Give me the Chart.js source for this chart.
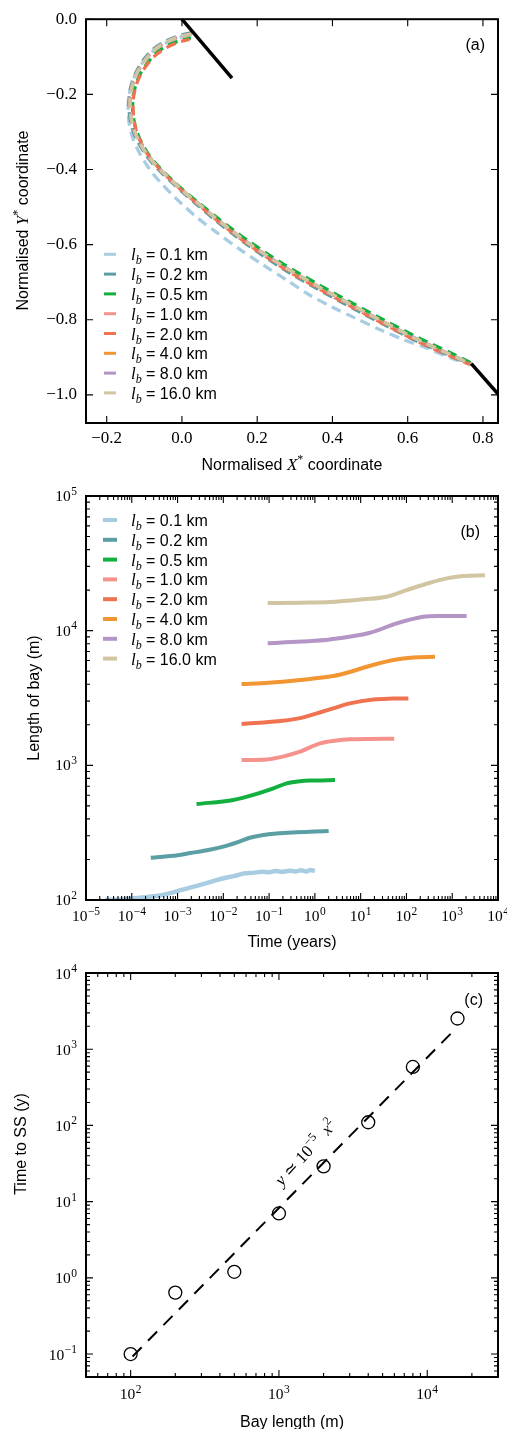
<!DOCTYPE html>
<html>
<head>
<meta charset="utf-8">
<script src="https://cdn.jsdelivr.net/npm/chart.js@4.4.1/dist/chart.umd.min.js"></script>
<style>
  html, body { margin: 0; padding: 0; background: #fff; overflow: hidden; }
  #page { position: relative; width: 507px; height: 1429px; overflow: hidden; background: #fff; }
  #page canvas { position: absolute; left: 0; }
</style>
</head>
<body>
<div id="page">
  <canvas id="panelA" width="540" height="475" style="top:0px"></canvas>
  <canvas id="panelB" width="540" height="475" style="top:475px"></canvas>
  <canvas id="panelC" width="540" height="479" style="top:950px"></canvas>
</div>
<script>
const SANS = '"Liberation Sans", Arial, Helvetica, sans-serif';
const SERIF = '"Liberation Serif", "DejaVu Serif", "Times New Roman", serif';

// Bay lengths l_b shown in the legends, and their colours
const bayLabels = ['0.1', '0.2', '0.5', '1.0', '2.0', '4.0', '8.0', '16.0'];
const bayColors = ['#a8cde2', '#5b9ea4', '#13b040', '#f5928c', '#ef7350', '#f29533', '#b495c5', '#d2c5a2'];

// ---------- (a) steady-state bay shapes, normalised [X*, Y*] ----------
const shapeLb01 = [[0.020,-0.042],[-0.012,-0.050],[-0.048,-0.066],[-0.080,-0.088],[-0.105,-0.116],[-0.124,-0.148],[-0.136,-0.180],[-0.142,-0.214],[-0.143,-0.248],[-0.139,-0.285],[-0.130,-0.318],[-0.116,-0.350],[-0.099,-0.380],[-0.078,-0.410],[-0.054,-0.438],[-0.028,-0.465],[0.000,-0.492],[0.040,-0.528],[0.090,-0.566],[0.150,-0.610],[0.217,-0.655],[0.279,-0.695],[0.337,-0.733],[0.399,-0.766],[0.461,-0.796],[0.527,-0.827],[0.589,-0.853],[0.652,-0.876],[0.722,-0.905],[0.765,-0.918]];
const shapeLb02 = [[0.025,-0.036],[-0.010,-0.045],[-0.046,-0.060],[-0.078,-0.081],[-0.102,-0.108],[-0.121,-0.139],[-0.133,-0.170],[-0.140,-0.203],[-0.141,-0.237],[-0.137,-0.270],[-0.129,-0.300],[-0.115,-0.330],[-0.098,-0.358],[-0.077,-0.385],[-0.052,-0.411],[-0.025,-0.436],[0.002,-0.461],[0.037,-0.491],[0.085,-0.532],[0.133,-0.570],[0.183,-0.607],[0.271,-0.666],[0.360,-0.718],[0.449,-0.767],[0.537,-0.813],[0.626,-0.858],[0.715,-0.897],[0.768,-0.918]];
const shapeLb05 = [[0.024,-0.050],[-0.006,-0.057],[-0.038,-0.070],[-0.068,-0.090],[-0.092,-0.117],[-0.111,-0.146],[-0.123,-0.176],[-0.130,-0.208],[-0.131,-0.240],[-0.127,-0.272],[-0.119,-0.302],[-0.106,-0.331],[-0.090,-0.358],[-0.070,-0.384],[-0.046,-0.409],[-0.020,-0.434],[0.007,-0.458],[0.041,-0.486],[0.089,-0.525],[0.136,-0.561],[0.186,-0.597],[0.273,-0.654],[0.362,-0.706],[0.451,-0.755],[0.539,-0.802],[0.628,-0.848],[0.716,-0.889],[0.768,-0.915]];
const shapeLb2 = [[0.020,-0.054],[-0.012,-0.062],[-0.040,-0.075],[-0.068,-0.094],[-0.092,-0.120],[-0.111,-0.150],[-0.123,-0.180],[-0.129,-0.210],[-0.130,-0.240],[-0.127,-0.272],[-0.120,-0.301],[-0.108,-0.330],[-0.093,-0.357],[-0.073,-0.383],[-0.050,-0.409],[-0.024,-0.434],[0.003,-0.459],[0.038,-0.489],[0.086,-0.530],[0.134,-0.568],[0.184,-0.605],[0.272,-0.664],[0.361,-0.716],[0.450,-0.765],[0.538,-0.812],[0.627,-0.858],[0.716,-0.898],[0.768,-0.920]];
const shapeMid = [[0.025,-0.040],[-0.008,-0.047],[-0.044,-0.062],[-0.075,-0.083],[-0.099,-0.110],[-0.118,-0.140],[-0.130,-0.170],[-0.137,-0.202],[-0.138,-0.236],[-0.134,-0.268],[-0.126,-0.298],[-0.113,-0.327],[-0.097,-0.354],[-0.077,-0.380],[-0.053,-0.405],[-0.027,-0.430],[0.000,-0.455],[0.035,-0.484],[0.084,-0.525],[0.132,-0.563],[0.182,-0.600],[0.270,-0.658],[0.359,-0.710],[0.448,-0.759],[0.536,-0.806],[0.625,-0.852],[0.714,-0.893],[0.768,-0.918]];
const shapesA = [shapeLb01, shapeLb02, shapeLb05, shapeMid, shapeLb2, shapeMid, shapeMid, shapeMid];
const dashPhaseA = [0, 0, 2, 1, 1.5, 0.5, 0.8, 0];
// calving-front segments
const frontTop = [[0.0, 0.0], [0.133, -0.157]];
const frontBottom = [[0.769, -0.917], [0.842, -1.0]];
const aXTicks = [-0.2, 0.0, 0.2, 0.4, 0.6, 0.8];
const aYTicks = [-1.0, -0.8, -0.6, -0.4, -0.2, 0.0];

// ---------- (b) bay length through time, [years, metres] ----------
const growth01 = [[2.6e-5,100],[6e-5,101],[1.5e-4,104],[4e-4,108],[8e-4,114],[1.5e-3,121],[3e-3,129],[6e-3,138],[0.01,145],[0.018,151],[0.027,157],[0.045,159],[0.07,162],[0.1,161],[0.14,164],[0.2,162],[0.28,165],[0.38,163],[0.5,166],[0.65,163],[0.8,167],[1.0,164]];
const growth02 = [[2.6e-4,206],[1e-3,215],[0.0019,223],[0.005,236],[0.01,249],[0.02,268],[0.038,290],[0.07,303],[0.147,312],[0.4,318],[1.0,322],[2.0,326]];
const growth05 = [[0.0026,516],[0.0165,553],[0.045,603],[0.124,675],[0.242,735],[0.47,763],[1.0,772],[2.75,778]];
const growth1 = [[0.025,1095],[0.089,1106],[0.2,1160],[0.47,1262],[1.29,1455],[3.0,1530],[5.8,1560],[15,1572],[54,1575]];
const growth2 = [[0.025,2027],[0.2,2140],[0.5,2250],[1.1,2430],[2.5,2650],[5.8,2885],[19,3085],[50,3130],[110,3140]];
const growth4 = [[0.025,4020],[0.1,4100],[0.47,4300],[2.5,4600],[6,4950],[13.5,5400],[52,6050],[141,6330],[420,6400]];
const growth8 = [[0.093,8050],[0.5,8300],[2.14,8610],[16,9640],[61,11320],[233,12680],[459,12860],[2070,12830]];
const growth16 = [[0.093,16030],[0.5,16150],[2.14,16300],[11.4,17080],[37,17850],[101,20000],[327,22690],[757,24450],[1745,25430],[5200,25760]];
const growthB = [growth01, growth02, growth05, growth1, growth2, growth4, growth8, growth16];
const bXTicks = [1e-5, 1e-4, 1e-3, 1e-2, 1e-1, 1e0, 1e1, 1e2, 1e3, 1e4];
const bYTicks = [1e2, 1e3, 1e4, 1e5];

// ---------- (c) time to steady state against bay length ----------
const bayLengthC = [100, 200, 500, 1000, 2000, 4000, 8000, 16000];
const timeToSS = [0.1, 0.64, 1.2, 7.0, 29, 110, 585, 2530];
const fitLineC = [[103, 0.093], [15500, 1850]];
const cXTicks = [1e2, 1e3, 1e4];
const cYTicks = [1e-1, 1e0, 1e1, 1e2, 1e3, 1e4];

// ---------- helpers ----------
const fmtLin = v => (v < -1e-9 ? '\u2212' : '') + Math.abs(v).toFixed(1);
const expOf = v => Math.round(Math.log10(v));
const fmtPow = v => '10^' + expOf(v);
const toXY = arr => arr.map(([x, y]) => ({ x, y }));

function axis(type, min, max, ticks, fmt, size, pad, fit, isX, showLabels) {
  return {
    type, min, max,
    grid: { display: false, drawTicks: false },
    border: { display: false },
    ticks: { display: showLabels, font: { family: SERIF, size }, color: '#000', padding: pad, maxRotation: 0, minRotation: 0, autoSkip: false, callback: v => fmt(v) },
    afterBuildTicks: s => { s.ticks = ticks.map(v => ({ value: v })); },
    afterFit: s => { if (isX) s.height = fit; else s.width = fit; }
  };
}

function logMinors(min, max) {
  const out = [];
  for (let e = Math.floor(Math.log10(min)); e <= Math.ceil(Math.log10(max)); e++)
    for (let k = 2; k <= 9; k++) { const v = k * Math.pow(10, e); if (v > min * 1.0001 && v < max * 0.9999) out.push(v); }
  return out;
}

function runsWidth(ctx, runs) {
  let w = 0;
  runs.forEach(r => { ctx.font = r.font; w += ctx.measureText(r.text).width + (r.gap || 0); });
  return w;
}
function drawRuns(ctx, runs, x, y, align) {
  const w = runsWidth(ctx, runs);
  let cx = align === 'center' ? x - w / 2 : align === 'right' ? x - w : x;
  ctx.textAlign = 'left'; ctx.textBaseline = 'alphabetic'; ctx.fillStyle = '#000';
  runs.forEach(r => { ctx.font = r.font; cx += (r.pre || 0); ctx.fillText(r.text, cx, y + (r.dy || 0)); cx += ctx.measureText(r.text).width + (r.gap || 0) - (r.pre || 0); });
}
function drawRotated(ctx, runs, x, y, angle) {
  ctx.save(); ctx.translate(x, y); ctx.rotate(angle); drawRuns(ctx, runs, 0, 0, 'center'); ctx.restore();
}

const sans = s => s + 'px ' + SANS;
const serif = s => s + 'px ' + SERIF;
const iserif = s => 'italic ' + s + 'px ' + SERIF;

// "10" with a raised exponent, as a run list
const powRuns = v => {
  const e = expOf(v);
  return [{ text: '10', font: serif(15.5), gap: 0.5 }, { text: (e < 0 ? '\u2212' : '') + Math.abs(e), font: serif(11.5), dy: -6.5 }];
};

function drawPowLabels(chart, xBase, yBase) {
  const { ctx, chartArea: a } = chart;
  chart.scales.x.ticks.forEach(t => drawRuns(ctx, powRuns(t.value), chart.scales.x.getPixelForValue(t.value), a.bottom + xBase, 'center'));
  chart.scales.y.ticks.forEach(t => drawRuns(ctx, powRuns(t.value), a.left - 9, chart.scales.y.getPixelForValue(t.value) + yBase, 'right'));
}

function drawLegend(ctx, y0, step, x1, x2, lw) {
  bayLabels.forEach((lab, i) => {
    const y = y0 + i * step;
    ctx.save();
    ctx.strokeStyle = bayColors[i]; ctx.lineWidth = lw; ctx.lineCap = 'butt';
    ctx.beginPath(); ctx.moveTo(x1, y); ctx.lineTo(x2, y); ctx.stroke();
    ctx.restore();
    drawRuns(ctx, [{ text: 'l', font: iserif(17) }, { text: 'b', font: iserif(12), dy: 4 }], 131, y + 6, 'left');
    drawRuns(ctx, [{ text: '= ' + lab + ' km', font: sans(16) }], 146, y + 6, 'left');
  });
}

// frame with inward ticks on all four sides, plus panel decorations
function decor(name, minorX, minorY, extra) {
  return {
    id: 'decor' + name,
    afterDatasetsDraw(chart) {
      const { ctx, chartArea: a } = chart;
      const xs = chart.scales.x, ys = chart.scales.y;
      ctx.save();
      ctx.strokeStyle = '#000'; ctx.lineWidth = 1.1;
      ctx.beginPath();
      const tx = (vals, len) => vals.forEach(v => {
        const p = xs.getPixelForValue(v); if (p < a.left - 0.5 || p > a.right + 0.5) return;
        ctx.moveTo(p, a.bottom); ctx.lineTo(p, a.bottom - len); ctx.moveTo(p, a.top); ctx.lineTo(p, a.top + len);
      });
      const ty = (vals, len) => vals.forEach(v => {
        const p = ys.getPixelForValue(v); if (p < a.top - 0.5 || p > a.bottom + 0.5) return;
        ctx.moveTo(a.left, p); ctx.lineTo(a.left + len, p); ctx.moveTo(a.right, p); ctx.lineTo(a.right - len, p);
      });
      tx(xs.ticks.map(t => t.value), 7); ty(ys.ticks.map(t => t.value), 7);
      tx(minorX, 4); ty(minorY, 4);
      ctx.stroke();
      ctx.lineWidth = 2;
      ctx.strokeRect(a.left, a.top, a.right - a.left, a.bottom - a.top);
      ctx.restore();
      extra(ctx, chart);
    }
  };
}

const baseOptions = (scales, padTop) => ({
  responsive: false, animation: false, devicePixelRatio: 1,
  layout: { padding: { left: 0, right: 540 - 498, top: padTop, bottom: 0 } },
  plugins: { legend: { display: false }, tooltip: { enabled: false } },
  scales
});

// ---------- panel (a) ----------
const dsA = shapesA.map((shape, i) => ({
  data: toXY(shape), showLine: true, borderColor: bayColors[i], borderWidth: 3.3,
  borderDash: [10, 6], borderDashOffset: dashPhaseA[i], pointRadius: 0, tension: 0.3, order: 8 - i, clip: 0
}));
[frontTop, frontBottom].forEach(seg => dsA.push({
  data: toXY(seg), showLine: true, borderColor: '#000', borderWidth: 3.5, pointRadius: 0, order: 0, clip: 0
}));

new Chart(document.getElementById('panelA'), {
  type: 'scatter',
  data: { datasets: dsA },
  options: baseOptions({
    x: axis('linear', -0.255, 0.84, aXTicks, fmtLin, 17, 5, 52, true, true),
    y: axis('linear', -1.075, 0.0, aYTicks, fmtLin, 17, 9, 86, false, true)
  }, 18),
  plugins: [decor('A', [], [], (ctx) => {
    drawLegend(ctx, 254.3, 19.8, 104, 116, 3);
    drawRuns(ctx, [{ text: '(a)', font: sans(16) }], 485, 50, 'right');
    drawRuns(ctx, [{ text: 'Normalised ', font: sans(16) }, { text: 'X', font: iserif(17) }, { text: '*', font: serif(12), dy: -7 }, { text: ' coordinate', font: sans(16) }], 292, 470, 'center');
    drawRotated(ctx, [{ text: 'Normalised ', font: sans(16) }, { text: 'Y', font: iserif(17) }, { text: '*', font: serif(12), dy: -7 }, { text: ' coordinate', font: sans(16) }], 27.5, 220.5, -Math.PI / 2);
  })]
});

// ---------- panel (b) ----------
const dsB = growthB.map((g, i) => ({
  data: toXY(g), showLine: true, borderColor: bayColors[i], borderWidth: i === 0 ? 4.5 : 4,
  pointRadius: 0, cubicInterpolationMode: 'monotone', order: 8 - i, clip: 0
}));

new Chart(document.getElementById('panelB'), {
  type: 'scatter',
  data: { datasets: dsB },
  options: baseOptions({
    x: axis('logarithmic', 1e-5, 1e4, bXTicks, fmtPow, 16, 6, 50, true, false),
    y: axis('logarithmic', 1e2, 1e5, bYTicks, fmtPow, 16, 9, 86, false, false)
  }, 21),
  plugins: [decor('B', logMinors(1e-5, 1e4), logMinors(1e2, 1e5), (ctx, chart) => {
    drawPowLabels(chart, 21, 5);
    drawLegend(ctx, 45, 19.8, 103, 117, 4);
    drawRuns(ctx, [{ text: '(b)', font: sans(16) }], 480, 62, 'right');
    drawRuns(ctx, [{ text: 'Time (years)', font: sans(16) }], 292, 471.5, 'center');
    drawRotated(ctx, [{ text: 'Length of bay (m)', font: sans(16) }], 39, 223, -Math.PI / 2);
  })]
});

// ---------- panel (c) ----------
new Chart(document.getElementById('panelC'), {
  type: 'scatter',
  data: {
    datasets: [
      {
        data: bayLengthC.map((x, i) => ({ x, y: timeToSS[i] })),
        showLine: false, pointStyle: 'circle', pointRadius: 6.5, pointBorderWidth: 1.3,
        pointBorderColor: '#000', pointBackgroundColor: 'rgba(0,0,0,0)', order: 0, clip: false
      },
      {
        data: toXY(fitLineC), showLine: true, borderColor: '#000', borderWidth: 2,
        borderDash: [13, 9], pointRadius: 0, order: 1, clip: 0
      }
    ]
  },
  options: baseOptions({
    x: axis('logarithmic', 50, 30000, cXTicks, fmtPow, 16, 6, 52, true, false),
    y: axis('logarithmic', 0.05, 1e4, cYTicks, fmtPow, 16, 9, 86, false, false)
  }, 23),
  plugins: [decor('C', logMinors(50, 30000), logMinors(0.05, 1e4), (ctx, chart) => {
    drawPowLabels(chart, 22, 5.5);
    drawRuns(ctx, [{ text: '(c)', font: sans(16) }], 483, 55, 'right');
    drawRuns(ctx, [{ text: 'Bay length (m)', font: sans(16) }], 292, 476.5, 'center');
    drawRotated(ctx, [{ text: 'Time to SS (y)', font: sans(16) }], 26, 194, -Math.PI / 2);
    ctx.save(); ctx.translate(306, 203); ctx.rotate(-47.5 * Math.PI / 180);
    drawRuns(ctx, [
      { text: 'y', font: iserif(17) }, { text: ' \u2243 ', font: serif(17) }, { text: '10', font: serif(17) },
      { text: '\u22125', font: serif(12), dy: -7.5 }, { text: '  ', font: serif(17) }, { text: 'x', font: iserif(17) },
      { text: '2', font: serif(12), dy: -7.5 }
    ], 0, 5, 'center');
    ctx.restore();
  })]
});
</script>
</body>
</html>
